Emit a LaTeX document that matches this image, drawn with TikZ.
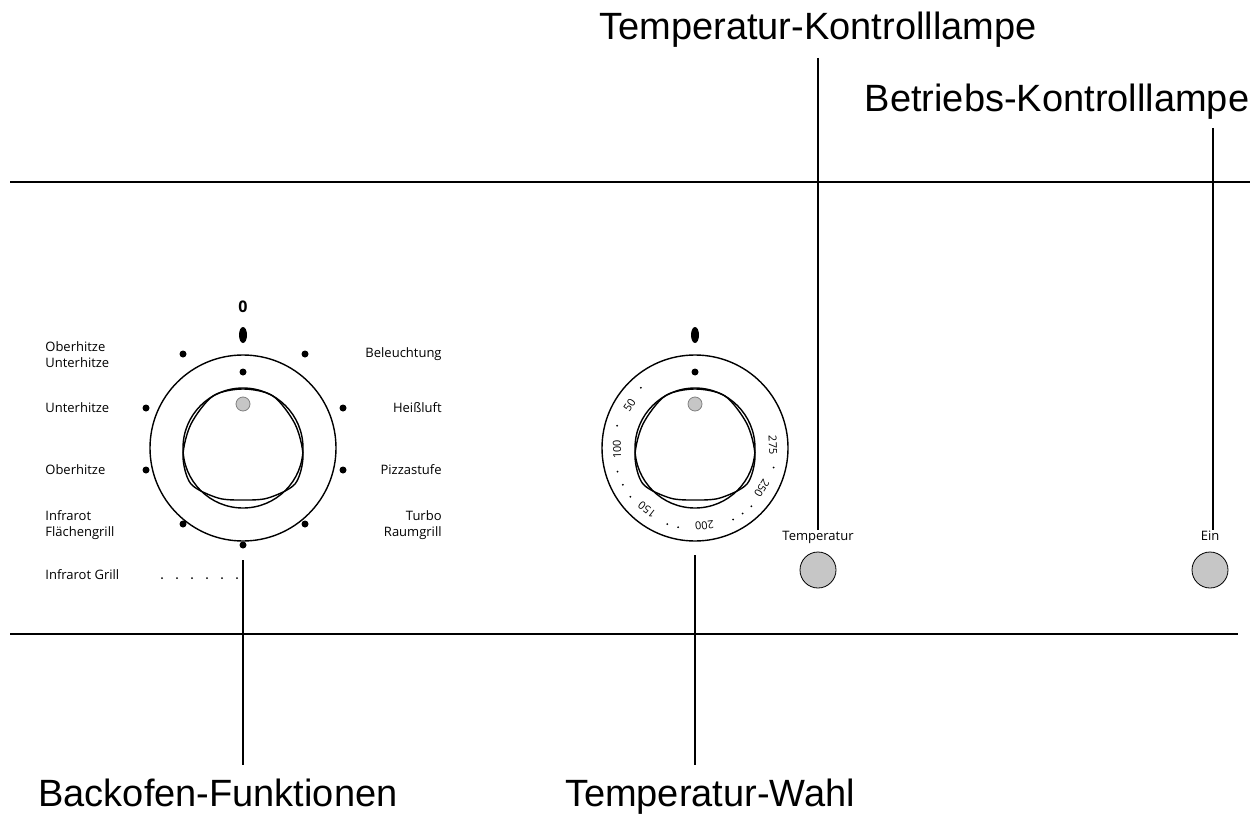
\documentclass[tikz,border=0pt]{standalone}
\usepackage{fontspec}
\setmainfont{Liberation Sans}
\newfontfamily\knobfont{Open Sans}
\usetikzlibrary{positioning,calc}

\tikzset{
    small/.style={font=\knobfont\fontsize{6.5}{8}\selectfont, inner sep=0pt, align=left},
    scale num/.style={font=\knobfont\fontsize{5.5}{6}\selectfont, inner sep=0pt},
    big/.style={font=\fontsize{19}{22}\selectfont, inner sep=0pt},
    mark dot/.style={circle, fill=black, inner sep=0pt, minimum size=3.5pt},
    lamp/.style={circle, draw, fill=gray!45, minimum size=18pt, inner sep=0pt},
    leader/.style={line width=0.6pt}
}
\newcommand{\knobshape}[1]{%
    \draw[line width=0.7pt] #1 circle (46.5pt);
    \draw[line width=0.7pt] #1 circle (30pt);
    \draw[line width=0.7pt, shift={#1}] plot[smooth cycle] coordinates {
        (0,-59) (30,-52) (52,-24) (60,8) (52,36) (25,50) (0,52)
        (-25,50) (-52,36) (-60,8) (-52,-24) (-30,-52)};
    \fill[gray!45, draw=gray] ($#1+(0,-44)$) circle (3.5pt);
    \node[mark dot] at ($#1+(0,-76)$) {};
    \fill ($#1+(0,-113)$) ellipse (2pt and 4pt);
}

\begin{document}
\begin{tikzpicture}[x=0.5pt, y=-0.5pt]
    \useasboundingbox (0,0) rectangle (1251,818);

    % panel lines
    \draw[line width=0.6pt] (10,182) -- (1250,182);
    \draw[line width=1.3pt] (10,634) -- (1238,634);

    % function knob
    \coordinate (fk) at (243,448);
    \knobshape{(fk)}
    \node[font=\knobfont\bfseries\fontsize{8}{8}\selectfont] at (243,307) {0};
    \foreach \px/\py in {183/354, 305/354, 146/408, 343/408, 146/470, 343/470, 183/524, 305/524, 243/545}
        \node[mark dot] at (\px,\py) {};
    \node[small, anchor=west] at (45,355) {Oberhitze\\Unterhitze};
    \node[small, anchor=west] at (45,408) {Unterhitze};
    \node[small, anchor=west] at (45,470) {Oberhitze};
    \node[small, anchor=west] at (45,525) {Infrarot\\Flächengrill};
    \node[small, anchor=west] at (45,575) {Infrarot Grill};
    \foreach \px in {162,177,...,237}
        \fill (\px,578) circle (0.5pt);
    \node[small, anchor=east, align=right] at (442,354) {Beleuchtung};
    \node[small, anchor=east, align=right] at (442,408) {Heißluft};
    \node[small, anchor=east, align=right] at (442,470) {Pizzastufe};
    \node[small, anchor=east, align=right] at (442,525) {Turbo\\Raumgrill};

    % temperature knob
    \coordinate (tk) at (695,448);
    \knobshape{(tk)}
    \foreach \ang/\val in {147/50, 181/100, 232/150, 277/200, 329/250, 2/275}
        \node[scale num, rotate=\ang-90] at ($(tk)+({78*cos(\ang)},{-78*sin(\ang)})$) {\val};
    \foreach \ang in {132,164,197,207,217,250,258,298,306,314,346}
        \fill ($(tk)+({81*cos(\ang)},{-81*sin(\ang)})$) circle (0.5pt);

    % lamps
    \node[lamp] (tl) at (818,570) {};
    \node[small, anchor=base] (tlt) at (818,540) {Temperatur};
    \node[lamp] (el) at (1210,570) {};
    \node[small, anchor=base] (elt) at (1210,540) {Ein};

    % callouts
    \node[big] (bf) at (218,793) {Backofen-Funktionen};
    \node[big] (tw) at (710,797) {Temperatur-Wahl};
    \node[big] (tkl) at (818,30) {Temperatur-Kontrolllampe};
    \node[big] (bkl) at (1057,102) {Betriebs-Kontrolllampe};
    \coordinate (fkl) at (243,560);
    \coordinate (tkl2) at (695,555);
    \coordinate (tklx) at (818,58);
    \coordinate (bklx) at (1213,128);
    \draw[leader] (fkl) -- (243,765);
    \draw[leader] (tkl2) -- (695,765);
    \draw[leader] (tklx) -- (tklx |- tlt.north);
    \draw[leader] (bklx) -- (bklx |- elt.north);
\end{tikzpicture}
\end{document}
